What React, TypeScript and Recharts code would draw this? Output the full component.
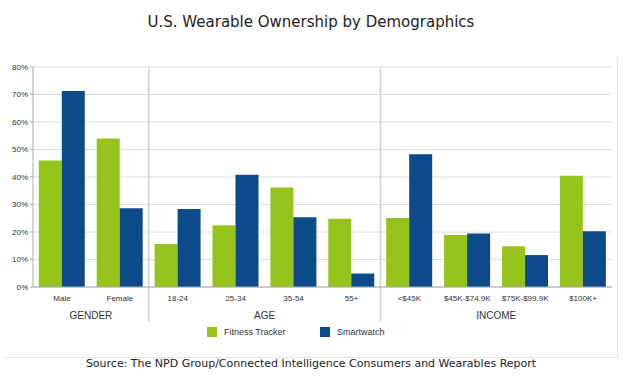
import { BarChart, Bar, XAxis, YAxis, CartesianGrid, Legend, ReferenceLine } from "recharts";

const GREEN = "#96c31c";
const BLUE = "#0c4a8a";

const categories = ["Male", "Female", "18-24", "25-34", "35-54", "55+", "<$45K", "$45K-$74.9K", "$75K-$99.9K", "$100K+"];
const fitnessTracker = [46, 54, 15.6, 22.5, 36.2, 24.8, 25.1, 18.9, 14.8, 40.5];
const smartwatch = [71.3, 28.6, 28.4, 40.8, 25.4, 4.9, 48.3, 19.5, 11.6, 20.3];
const yTicks = [0, 10, 20, 30, 40, 50, 60, 70, 80];
// group label sits on the right edge of this category
const groupLabels: Record<string, string> = { Male: "GENDER", "25-34": "AGE", "$45K-$74.9K": "INCOME" };
// separator drawn on the right edge of these categories
const groupBreaks = ["Female", "55+"];

const data = categories.map((name, i) => ({
  name,
  fitness: fitnessTracker[i],
  smart: smartwatch[i],
}));

const FONT = "Liberation Sans, Arial, sans-serif";
const tickFont = { fontFamily: FONT, fontSize: 8, fill: "#333" };

function GroupTick(props: any) {
  const { x, y, payload } = props;
  const label = groupLabels[payload.value];
  if (!label) return null;
  const half = payload.offset || 29;
  return (
    <text x={x + half} y={y + 4} textAnchor="middle" fontFamily={FONT} fontSize={10} fill="#333">
      {label}
    </text>
  );
}

function LegendContent() {
  const items = [
    { label: "Fitness Tracker", color: GREEN },
    { label: "Smartwatch", color: BLUE },
  ];
  return (
    <div style={{ display: "flex", height: 20, alignItems: "center", fontFamily: FONT, fontSize: 9, color: "#333" }}>
      {items.map((it) => (
        <div key={it.label} style={{ display: "flex", alignItems: "center", width: 113 }}>
          <span style={{ display: "inline-block", width: 10, height: 10, background: it.color, marginRight: 7 }} />
          {it.label}
        </div>
      ))}
    </div>
  );
}

export default function App() {
  return (
    <div style={{ position: "absolute", left: 0, top: 0, width: 630, height: 376, background: "#fff" }}>
      <div style={{ position: "absolute", left: 5, top: 57, width: 612, height: 300, borderRight: "1px solid #e6e6e6", borderBottom: "1px solid #e6e6e6" }} />
      <div style={{ position: "absolute", left: 0, top: 13, width: 622, textAlign: "center", fontFamily: "DejaVu Sans, Verdana, sans-serif", fontSize: 15, color: "#222" }}>
        U.S. Wearable Ownership by Demographics
      </div>
      <BarChart
        width={630}
        height={376}
        data={data}
        margin={{ top: 67, right: 18, left: 0, bottom: 31 }}
        barCategoryGap="10%"
        barGap={0}
        style={{ position: "absolute", left: 0, top: 0 }}
      >
        <CartesianGrid vertical={false} stroke="#dcdcdc" />
        <XAxis
          dataKey="name"
          tick={tickFont}
          tickLine={false}
          axisLine={{ stroke: "#aaa" }}
          interval={0}
          height={20}
        />
        <XAxis
          xAxisId="grp"
          dataKey="name"
          tick={<GroupTick />}
          interval={0}
          tickLine={false}
          axisLine={false}
          height={18}
        />
        <YAxis
          domain={[0, 80]}
          ticks={yTicks}
          tickFormatter={(v: number) => `${v}%`}
          tick={tickFont}
          tickSize={3}
          tickLine={{ stroke: "#aaa" }}
          axisLine={{ stroke: "#aaa" }}
          width={33}
        />
        {groupBreaks.map((b) => (
          <ReferenceLine
            key={b}
            position="end"
            segment={[{ x: b, y: 80 }, { x: b, y: -12.5 }]}
            stroke="#d0d0d0"
            strokeWidth={1.5}
            ifOverflow="visible"
          />
        ))}
        <Legend
          content={<LegendContent />}
          wrapperStyle={{ position: "absolute", top: 322, left: 207, width: 260, height: 20 }}
        />
        <Bar dataKey="fitness" name="Fitness Tracker" fill={GREEN} isAnimationActive={false} />
        <Bar dataKey="smart" name="Smartwatch" fill={BLUE} isAnimationActive={false} />
      </BarChart>
      <div style={{ position: "absolute", left: 0, top: 357, width: 622, textAlign: "center", fontFamily: "DejaVu Sans, Verdana, sans-serif", fontSize: 11, color: "#222" }}>
        Source: The NPD Group/Connected Intelligence Consumers and Wearables Report
      </div>
    </div>
  );
}
